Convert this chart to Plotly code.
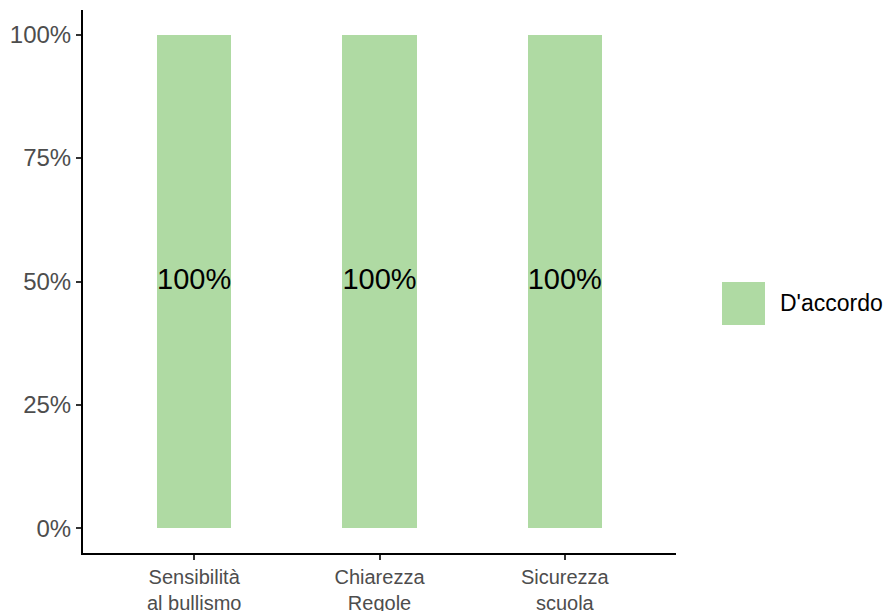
import plotly.graph_objects as go

categories = ["Sensibilità<br>al bullismo", "Chiarezza<br>Regole", "Sicurezza<br>scuola"]
series_name = "D'accordo"
values = [100, 100, 100]
labels = ["100%", "100%", "100%"]
y_ticks = [0, 25, 50, 75, 100]
y_ticklabels = ["0%", "25%", "50%", "75%", "100%"]

bar_color = "#AFDAA3"
font_family = "Liberation Sans, Arial, sans-serif"

fig = go.Figure()
fig.add_trace(go.Bar(
    x=categories, y=values, width=0.4, marker=dict(color=bar_color, line=dict(width=0)),
    name=series_name, showlegend=False, hoverinfo="skip"))
fig.add_trace(go.Scatter(
    x=categories, y=[v / 2 for v in values], mode="text", text=labels,
    textfont=dict(family=font_family, size=29, color="black"),
    showlegend=False, hoverinfo="skip"))

# legend key built as shape + annotation (ggplot-style large key)
fig.add_shape(type="rect", xref="paper", yref="paper",
              x0=(722 - 83) / 593, x1=(765 - 83) / 593,
              y0=(553 - 325) / 543, y1=(553 - 282) / 543,
              fillcolor=bar_color, line=dict(width=0))
fig.add_annotation(xref="paper", yref="paper", x=(778 - 83) / 593, y=(553 - 303) / 543,
                   text=series_name, showarrow=False, xanchor="left", yanchor="middle",
                   font=dict(family=font_family, size=23, color="black"))

fig.update_layout(
    width=875, height=611,
    margin=dict(l=75, r=207, t=2, b=66),
    plot_bgcolor="white", paper_bgcolor="white",
    font=dict(family=font_family),
    bargap=0,
    xaxis=dict(
        type="category", range=[-0.6, 2.6], automargin=False,
        showline=True, linecolor="black", linewidth=2,
        ticks="outside", ticklen=5, tickwidth=2, tickcolor="#333333",
        tickfont=dict(family=font_family, size=20, color="#4D4D4D"),
        showgrid=False, zeroline=False, fixedrange=True),
    yaxis=dict(
        range=[-5, 105], tickmode="array", tickvals=y_ticks, ticktext=y_ticklabels,
        automargin=False,
        showline=True, linecolor="black", linewidth=2,
        ticks="outside", ticklen=5, tickwidth=2, tickcolor="#333333",
        tickfont=dict(family=font_family, size=24, color="#4D4D4D"),
        showgrid=False, zeroline=False, fixedrange=True),
)

fig.write_html("out.html")
